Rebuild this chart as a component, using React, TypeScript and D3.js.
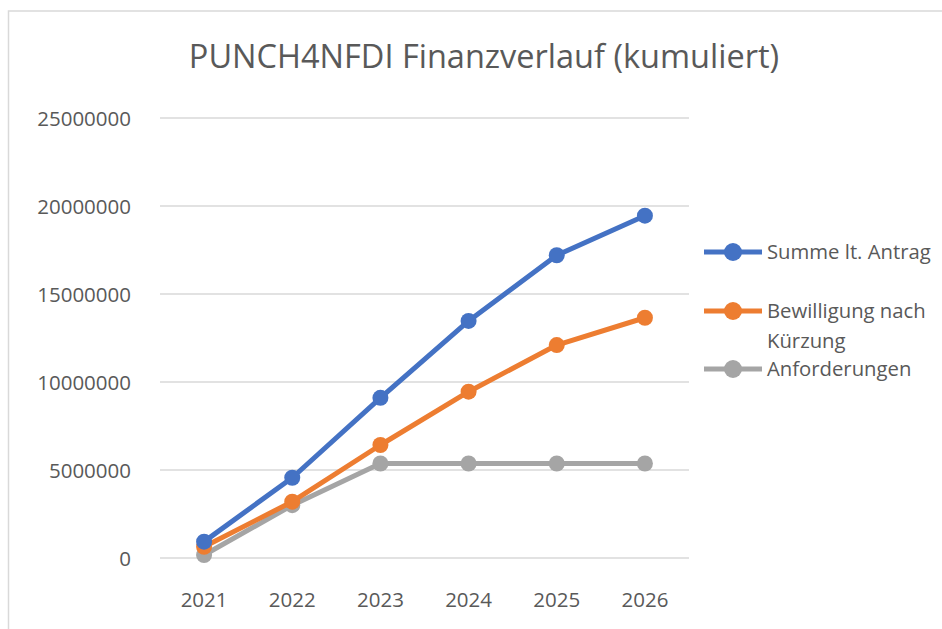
import React, { useEffect, useRef } from "react";
import * as d3 from "d3";

const years = ["2021", "2022", "2023", "2024", "2025", "2026"];
const summeAntrag = [930000, 4560000, 9100000, 13470000, 17200000, 19450000];
const bewilligung = [640000, 3200000, 6420000, 9450000, 12100000, 13650000];
const anforderungen = [170000, 3000000, 5370000, 5370000, 5370000, 5370000];
const yTicks = [0, 5000000, 10000000, 15000000, 20000000, 25000000];

const seriesList = [
  { name: ["Summe lt. Antrag"], values: summeAntrag, color: "#4472C4" },
  { name: ["Bewilligung nach", "Kürzung"], values: bewilligung, color: "#ED7D31" },
  { name: ["Anforderungen"], values: anforderungen, color: "#A5A5A5" },
];

const App = () => {
  const ref = useRef<SVGSVGElement>(null);

  useEffect(() => {
    const width = 942;
    const height = 629;
    const font = "'Open Sans', sans-serif";
    const textColor = "#595959";

    const svg = d3.select(ref.current);
    svg.selectAll("*").remove();
    svg.attr("width", width).attr("height", height);

    // chart frame
    svg.append("rect")
      .attr("x", 8.5).attr("y", 11)
      .attr("width", 980).attr("height", 700)
      .attr("fill", "white")
      .attr("stroke", "#D9D9D9")
      .attr("stroke-width", 1.5);

    svg.append("text")
      .attr("x", 484).attr("y", 68)
      .attr("text-anchor", "middle")
      .style("font-family", font)
      .style("font-size", "32.5px")
      .style("fill", textColor)
      .text("PUNCH4NFDI Finanzverlauf (kumuliert)");

    const x = d3.scaleBand().domain(years).range([160, 689]);
    const y = d3.scaleLinear().domain([0, 25000000]).range([558, 118]);

    // gridlines
    svg.append("g")
      .selectAll("line")
      .data(yTicks)
      .enter()
      .append("line")
      .attr("x1", 160).attr("x2", 689)
      .attr("y1", (d) => y(d)).attr("y2", (d) => y(d))
      .attr("stroke", "#D9D9D9")
      .attr("stroke-width", 1.3);

    // y labels
    svg.append("g")
      .selectAll("text")
      .data(yTicks)
      .enter()
      .append("text")
      .attr("x", 131)
      .attr("y", (d) => y(d) + 7.5)
      .attr("text-anchor", "end")
      .style("font-family", font)
      .style("font-size", "20.5px")
      .style("fill", textColor)
      .text((d) => String(d));

    // x labels
    svg.append("g")
      .selectAll("text")
      .data(years)
      .enter()
      .append("text")
      .attr("x", (d) => x(d)! + x.bandwidth() / 2)
      .attr("y", 607)
      .attr("text-anchor", "middle")
      .style("font-family", font)
      .style("font-size", "20.5px")
      .style("fill", textColor)
      .text((d) => d);

    const line = d3.line<number>()
      .x((d, i) => x(years[i])! + x.bandwidth() / 2)
      .y((d) => y(d));

    // draw last series first so blue is on top
    [...seriesList].reverse().forEach((s) => {
      const g = svg.append("g");
      g.append("path")
        .datum(s.values)
        .attr("d", line)
        .attr("fill", "none")
        .attr("stroke", s.color)
        .attr("stroke-width", 5)
        .attr("stroke-linejoin", "round");
      g.selectAll("circle")
        .data(s.values)
        .enter()
        .append("circle")
        .attr("cx", (d, i) => x(years[i])! + x.bandwidth() / 2)
        .attr("cy", (d) => y(d))
        .attr("r", 8)
        .attr("fill", s.color);
    });

    // legend
    const legendY = [252, 311, 369];
    seriesList.forEach((s, i) => {
      const g = svg.append("g").attr("transform", `translate(0,${legendY[i]})`);
      g.append("line")
        .attr("x1", 704).attr("x2", 762)
        .attr("y1", 0).attr("y2", 0)
        .attr("stroke", s.color)
        .attr("stroke-width", 5);
      g.append("circle")
        .attr("cx", 733).attr("cy", 0).attr("r", 9)
        .attr("fill", s.color);
      s.name.forEach((t, j) => {
        g.append("text")
          .attr("x", 767)
          .attr("y", 7 + j * 30)
          .style("font-family", font)
          .style("font-size", "20.3px")
          .style("fill", textColor)
          .text(t);
      });
    });
  }, []);

  return <svg ref={ref} style={{ position: "absolute", left: 0, top: 0 }}></svg>;
};

export default App;
